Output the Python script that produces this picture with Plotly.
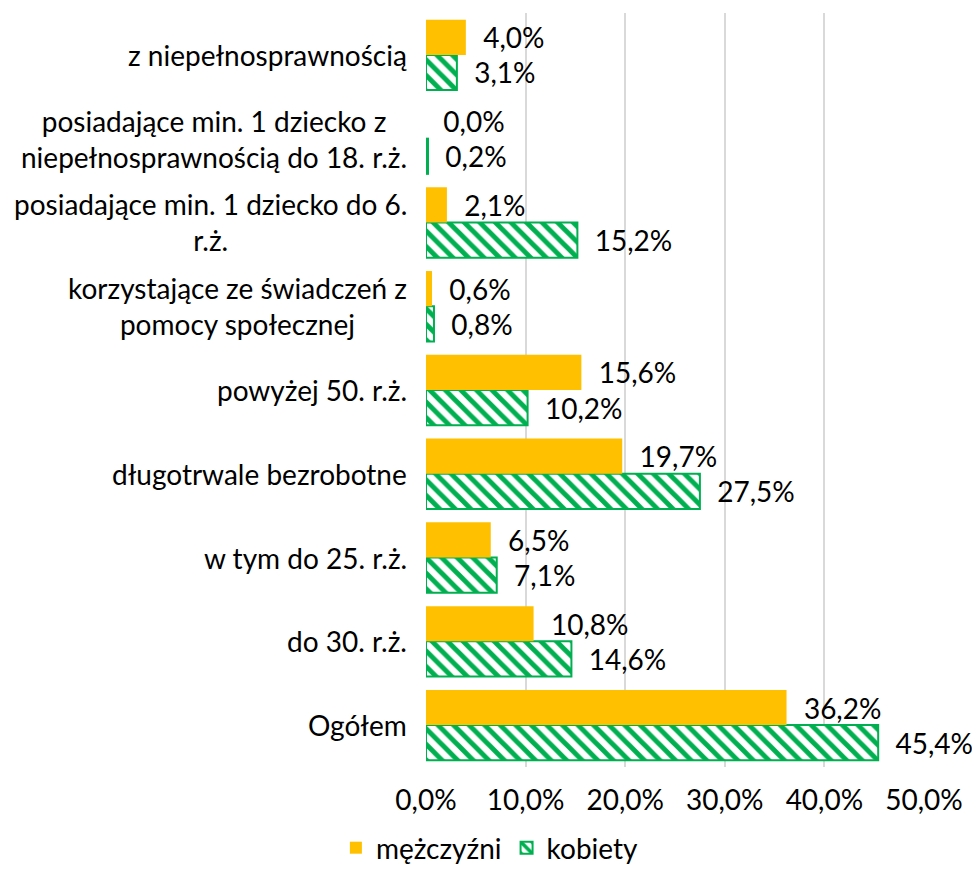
import plotly.graph_objects as go

categories = [
    "Ogółem",
    "do 30. r.ż.",
    "w tym do 25. r.ż.",
    "długotrwale bezrobotne",
    "powyżej 50. r.ż.",
    "korzystające ze świadczeń z<br>pomocy społecznej",
    "posiadające min. 1 dziecko do 6.<br>r.ż.",
    "posiadające min. 1 dziecko z<br>niepełnosprawnością do 18. r.ż.",
    "z niepełnosprawnością",
]
men = [36.2, 10.8, 6.5, 19.7, 15.6, 0.6, 2.1, 0.0, 4.0]
women = [45.4, 14.6, 7.1, 27.5, 10.2, 0.8, 15.2, 0.2, 3.1]
tick_vals = [0, 10, 20, 30, 40, 50]

def fmt(v):
    return f"{v:.1f}%".replace(".", ",")

FONT = "Lato, Arial, sans-serif"
FS = 28
fig = go.Figure()
fig.add_trace(go.Bar(
    y=categories, x=women, orientation="h", name="kobiety",
    marker=dict(color="white", line=dict(color="#00B050", width=2),
                pattern=dict(shape="\\", fgcolor="#00B050", bgcolor="white",
                             size=11, solidity=0.45, fillmode="replace")),
    text=["  " + fmt(v) for v in women], textposition="outside", cliponaxis=False,
    constraintext="none",
    textfont=dict(size=FS, color="black", family=FONT), legendrank=2,
))
fig.add_trace(go.Bar(
    y=categories, x=men, orientation="h", name="mężczyźni",
    marker=dict(color="#FFC000", line=dict(width=0)),
    text=["  " + fmt(v) for v in men], textposition="outside", cliponaxis=False,
    constraintext="none",
    textfont=dict(size=FS, color="black", family=FONT), legendrank=1,
))
for c in categories:
    fig.add_annotation(x=0, xref="paper", xanchor="right", xshift=-17,
                       y=c, yref="y", yanchor="middle", text=c, align="center",
                       showarrow=False, font=dict(size=FS, family=FONT, color="black"))
fig.update_layout(
    width=972, height=873,
    margin=dict(l=426, r=48, t=13, b=106, autoexpand=False),
    barmode="group", bargap=0.16, bargroupgap=0,
    plot_bgcolor="white", paper_bgcolor="white",
    font=dict(family=FONT, size=FS, color="black"),
    separators=",.",
    legend=dict(orientation="h", xref="container", x=0.504, xanchor="center",
                yref="container", y=0.0, yanchor="bottom",
                font=dict(size=FS), traceorder="normal"),
    uniformtext=dict(mode=False),
)
fig.update_xaxes(range=[0, 50], tickvals=tick_vals, ticktext=[fmt(v) for v in tick_vals],
                 showgrid=True, gridcolor="#D9D9D9", gridwidth=1.5, zeroline=False,
                 ticks="", tickfont=dict(size=FS), showline=False, automargin=False,
                 ticklabelstandoff=14)
fig.update_yaxes(showgrid=False, ticks="", showticklabels=False, showline=False,
                 automargin=False)
fig.write_html("out.html", config={"displayModeBar": False},
               post_script="document.body.style.margin='0px';document.body.style.overflow='hidden';")
